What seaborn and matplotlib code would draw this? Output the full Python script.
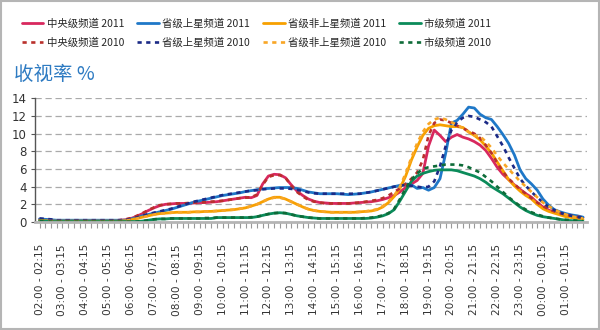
import numpy as np
import pandas as pd
import matplotlib
matplotlib.use("Agg")
import matplotlib.pyplot as plt
import seaborn as sns
from matplotlib.patches import Rectangle

sns.set_theme(style="white")
plt.rcParams["font.family"] = ["Noto Sans CJK SC", "DejaVu Sans"]

# ---------------- data ----------------
hour_labels = ["02:00 - 02:15", "03:00 - 03:15", "04:00 - 04:15", "05:00 - 05:15",
               "06:00 - 06:15", "07:00 - 07:15", "08:00 - 08:15", "09:00 - 09:15",
               "10:00 - 10:15", "11:00 - 11:15", "12:00 - 12:15", "13:00 - 13:15",
               "14:00 - 14:15", "15:00 - 15:15", "16:00 - 16:15", "17:00 - 17:15",
               "18:00 - 18:15", "19:00 - 19:15", "20:00 - 20:15", "21:00 - 21:15",
               "22:00 - 22:15", "23:00 - 23:15", "00:00 - 00:15", "01:00 - 01:15"]

series_names = ["中央级频道 2011", "中央级频道 2010", "省级上星频道 2011", "省级上星频道 2010",
                "省级非上星频道 2011", "省级非上星频道 2010", "市级频道 2011", "市级频道 2010"]

central_2011 = [0.3, 0.25, 0.2, 0.15, 0.15, 0.15, 0.15, 0.15, 0.15, 0.15, 0.15, 0.15, 0.15, 0.15, 0.2, 0.25,
                0.4, 0.65, 0.95, 1.3, 1.6, 1.85, 2.0, 2.05, 2.1, 2.1, 2.1, 2.15, 2.2, 2.2, 2.25, 2.3,
                2.4, 2.5, 2.6, 2.7, 2.8, 2.75, 3.0, 4.3, 5.2, 5.4, 5.35, 5.0, 4.2, 3.5, 3.0, 2.6,
                2.35, 2.2, 2.15, 2.1, 2.1, 2.1, 2.1, 2.15, 2.2, 2.25, 2.3, 2.4, 2.55, 2.75, 3.0, 3.4,
                3.9, 4.3, 4.7, 5.5, 8.6, 10.4, 9.8, 9.1, 9.6, 9.9, 9.6, 9.4, 9.1, 8.7, 8.1, 7.2,
                6.2, 5.4, 4.8, 4.2, 3.7, 3.2, 2.8, 2.2, 1.7, 1.35, 1.1, 0.9, 0.8, 0.7, 0.6, 0.5]
central_2010 = [0.3, 0.25, 0.2, 0.15, 0.15, 0.15, 0.15, 0.15, 0.15, 0.15, 0.15, 0.15, 0.15, 0.15, 0.2, 0.3,
                0.45, 0.7, 1.0, 1.35, 1.65, 1.9, 2.0, 2.05, 2.1, 2.1, 2.15, 2.2, 2.2, 2.25, 2.3, 2.35,
                2.4, 2.5, 2.6, 2.7, 2.75, 2.8, 3.1, 4.2, 5.1, 5.3, 5.3, 5.0, 4.1, 3.4, 2.9, 2.5,
                2.3, 2.2, 2.1, 2.1, 2.1, 2.1, 2.1, 2.15, 2.2, 2.3, 2.4, 2.5, 2.7, 3.0, 3.4, 3.8,
                4.3, 4.9, 5.6, 7.0, 9.8, 11.2, 11.6, 11.5, 11.2, 10.9, 10.6, 10.3, 10.0, 9.5, 8.7, 7.8,
                6.7, 5.7, 4.9, 4.3, 3.7, 3.2, 2.7, 2.2, 1.8, 1.45, 1.2, 1.0, 0.8, 0.7, 0.6, 0.5]
sat_2011 = [0.35, 0.3, 0.25, 0.2, 0.2, 0.2, 0.2, 0.2, 0.2, 0.2, 0.2, 0.2, 0.2, 0.2, 0.2, 0.2,
            0.35, 0.5, 0.7, 0.85, 1.0, 1.15, 1.3, 1.45, 1.65, 1.85, 2.05, 2.25, 2.4, 2.55, 2.7, 2.85,
            3.0, 3.1, 3.2, 3.3, 3.45, 3.55, 3.65, 3.75, 3.8, 3.85, 3.9, 3.9, 3.9, 3.8, 3.6, 3.4,
            3.3, 3.2, 3.2, 3.2, 3.2, 3.15, 3.1, 3.15, 3.2, 3.3, 3.4, 3.55, 3.7, 3.85, 4.0, 4.15,
            4.3, 4.2, 3.8, 3.9, 3.6, 3.9, 4.9, 7.8, 11.2, 11.5, 12.2, 13.0, 12.9, 12.2, 11.8, 11.6,
            10.8, 9.9, 8.9, 7.6, 5.9, 4.9, 4.3, 3.6, 2.6, 1.9, 1.4, 1.15, 0.95, 0.8, 0.7, 0.55]
sat_2010 = [0.4, 0.35, 0.3, 0.2, 0.2, 0.2, 0.2, 0.2, 0.2, 0.2, 0.2, 0.2, 0.2, 0.2, 0.2, 0.2,
            0.35, 0.5, 0.7, 0.9, 1.05, 1.2, 1.35, 1.5, 1.7, 1.9, 2.1, 2.3, 2.45, 2.6, 2.75, 2.9,
            3.05, 3.15, 3.25, 3.35, 3.45, 3.55, 3.6, 3.7, 3.75, 3.8, 3.8, 3.8, 3.75, 3.65, 3.5, 3.35,
            3.25, 3.2, 3.2, 3.2, 3.2, 3.2, 3.2, 3.2, 3.2, 3.3, 3.4, 3.55, 3.7, 3.85, 4.0, 4.1,
            4.2, 4.1, 4.0, 3.9, 4.0, 4.6, 6.3, 8.6, 10.4, 11.3, 11.8, 12.0, 11.9, 11.6, 11.3, 10.8,
            9.7, 8.6, 7.3, 6.1, 4.9, 4.1, 3.4, 2.8, 2.2, 1.7, 1.35, 1.05, 0.85, 0.7, 0.55, 0.5]
nonsat_2011 = [0.2, 0.15, 0.1, 0.1, 0.1, 0.1, 0.1, 0.1, 0.1, 0.1, 0.1, 0.1, 0.1, 0.1, 0.1, 0.15,
               0.25, 0.4, 0.55, 0.7, 0.85, 0.95, 1.0, 1.05, 1.1, 1.1, 1.1, 1.15, 1.15, 1.2, 1.2, 1.25,
               1.3, 1.35, 1.4, 1.5, 1.6, 1.8, 2.0, 2.3, 2.6, 2.8, 2.8, 2.6, 2.3, 2.0, 1.7, 1.45,
               1.3, 1.2, 1.15, 1.1, 1.1, 1.1, 1.1, 1.1, 1.15, 1.2, 1.25, 1.4, 1.7, 2.2, 2.9, 3.8,
               5.2, 7.0, 8.5, 9.8, 10.6, 10.9, 11.0, 10.9, 10.8, 10.8, 10.7, 10.2, 9.8, 9.3, 8.6, 7.8,
               6.8, 5.8, 4.8, 4.1, 3.5, 3.0, 2.6, 2.0, 1.5, 1.2, 1.0, 0.8, 0.6, 0.5, 0.4, 0.3]
nonsat_2010 = [0.2, 0.15, 0.1, 0.1, 0.1, 0.1, 0.1, 0.1, 0.1, 0.1, 0.1, 0.1, 0.1, 0.1, 0.1, 0.15,
               0.25, 0.4, 0.55, 0.7, 0.85, 0.95, 1.0, 1.05, 1.1, 1.1, 1.1, 1.15, 1.15, 1.2, 1.2, 1.25,
               1.3, 1.35, 1.4, 1.5, 1.6, 1.8, 2.0, 2.3, 2.6, 2.75, 2.75, 2.6, 2.3, 2.0, 1.7, 1.45,
               1.3, 1.2, 1.15, 1.1, 1.1, 1.1, 1.1, 1.1, 1.15, 1.2, 1.3, 1.45, 1.8, 2.3, 3.0, 4.0,
               5.5, 7.3, 8.9, 10.2, 11.1, 11.6, 11.8, 11.6, 11.3, 11.0, 10.6, 10.2, 9.8, 9.7, 9.1, 8.4,
               7.5, 6.7, 6.0, 5.3, 4.6, 4.0, 3.4, 2.8, 2.2, 1.8, 1.4, 1.1, 0.85, 0.65, 0.5, 0.4]
city_2011 = [0.15, 0.1, 0.05, 0.05, 0.05, 0.05, 0.05, 0.05, 0.05, 0.05, 0.05, 0.05, 0.05, 0.05, 0.05, 0.05,
             0.05, 0.05, 0.1, 0.2, 0.3, 0.35, 0.35, 0.4, 0.4, 0.4, 0.4, 0.4, 0.4, 0.4, 0.4, 0.5,
             0.5, 0.5, 0.5, 0.5, 0.5, 0.5, 0.6, 0.75, 0.9, 1.0, 1.05, 1.0, 0.85, 0.7, 0.6, 0.5,
             0.45, 0.4, 0.4, 0.4, 0.4, 0.4, 0.4, 0.4, 0.4, 0.4, 0.45, 0.55, 0.7, 0.95, 1.4, 2.4,
             3.5, 4.6, 5.2, 5.5, 5.7, 5.85, 5.9, 5.9, 5.9, 5.8, 5.6, 5.4, 5.2, 4.9, 4.5, 4.0,
             3.6, 3.2, 2.7, 2.2, 1.7, 1.3, 1.0, 0.75, 0.6, 0.5, 0.4, 0.3, 0.2, 0.15, 0.1, 0.1]
city_2010 = [0.15, 0.1, 0.05, 0.05, 0.05, 0.05, 0.05, 0.05, 0.05, 0.05, 0.05, 0.05, 0.05, 0.05, 0.05, 0.05,
             0.05, 0.05, 0.1, 0.2, 0.3, 0.35, 0.35, 0.4, 0.4, 0.4, 0.4, 0.4, 0.4, 0.45, 0.45, 0.5,
             0.5, 0.5, 0.5, 0.5, 0.5, 0.55, 0.6, 0.75, 0.9, 1.0, 1.05, 1.0, 0.85, 0.7, 0.6, 0.5,
             0.45, 0.4, 0.4, 0.4, 0.4, 0.4, 0.4, 0.4, 0.4, 0.45, 0.5, 0.6, 0.75, 1.0, 1.5, 2.6,
             3.8, 4.8, 5.5, 6.0, 6.2, 6.3, 6.4, 6.5, 6.5, 6.5, 6.4, 6.2, 5.9, 5.6, 5.1, 4.6,
             4.0, 3.4, 2.8, 2.3, 1.8, 1.4, 1.1, 0.85, 0.65, 0.5, 0.4, 0.3, 0.25, 0.2, 0.15, 0.1]

colors = ["#d8285e", "#b9302c", "#1f78c8", "#1b2a86", "#f7a000", "#f8a626", "#0b8b5a", "#0e6b38"]

# ---------------- build frame ----------------
values = [central_2011, central_2010, sat_2011, sat_2010,
          nonsat_2011, nonsat_2010, city_2011, city_2010]
slot = np.arange(len(central_2011))
df = pd.concat([pd.DataFrame({"slot": slot, "rating": v, "series": n})
                for n, v in zip(series_names, values)], ignore_index=True)

fig = plt.figure(figsize=(6.0, 3.3), dpi=100)
ax = fig.add_axes([35 / 600, 1 - 222 / 330, (587 - 35) / 600, (222 - 98.3) / 330])

dash = (0, (1.6, 1.7))
handles = {}
# solid 2011 lines first, dotted 2010 lines on top
order = [0, 2, 4, 6, 1, 3, 5, 7]
for k in order:
    name = series_names[k]
    sub = df[df["series"] == name]
    ls = "-" if k % 2 == 0 else dash
    lw = 2.0 if k % 2 == 0 else 1.9
    sns.lineplot(data=sub, x="slot", y="rating", ax=ax, color=colors[k],
                 linewidth=lw, linestyle=ls, legend=False)
    handles[k] = ax.lines[-1]

ax.set_xlim(-0.8, 95.7)
ax.set_ylim(0, 14)
ax.set_yticks(np.arange(0, 15, 2))
ax.set_xticks(np.arange(0, 96, 4))
ax.set_xticklabels(hour_labels, rotation=90, fontsize=7.6, color="#333333",
                   family=["DejaVu Sans"])
ax.set_xticks(np.arange(0, 96, 1), minor=True)
ax.set_xlabel("")
ax.set_ylabel("")
for t in ax.get_yticklabels():
    t.set_fontsize(8.5)
    t.set_color("#333333")
    t.set_family(["DejaVu Sans"])

ax.tick_params(axis="x", which="both", bottom=True, length=4, width=0.8,
               color="#999999", pad=12)
ax.tick_params(axis="y", left=True, length=3, width=0.8, color="#555555", pad=3)

ax.yaxis.grid(True, linestyle=(0, (5, 3)), color="#aaaaaa", linewidth=0.9)
ax.xaxis.grid(False)
ax.set_axisbelow(True)
for s in ["top", "right"]:
    ax.spines[s].set_visible(False)
ax.spines["left"].set_color("#555555")
ax.spines["left"].set_linewidth(1.0)
ax.spines["bottom"].set_color("#b5b5b5")
ax.spines["bottom"].set_linewidth(2.0)

# legend (column-wise: 2011 on first row, 2010 on second row)
leg_handles = [handles[k] for k in range(8)]
fig.legend(leg_handles, series_names, ncol=4, loc="upper left",
           bbox_to_anchor=(0.029, 0.958), frameon=False, fontsize=7.5,
           handlelength=2.1, handletextpad=0.3, columnspacing=1.25,
           labelspacing=0.85, borderaxespad=0)

fig.text(14 / 600, 1 - 74 / 330, "收视率 %", color="#2e7bc2", fontsize=14,
         va="center", ha="left")

fig.patches.append(Rectangle((0.001, 0.002), 0.997, 0.995, transform=fig.transFigure,
                             fill=False, edgecolor="#b5b5b5", linewidth=1.5))

fig.savefig("out.png", dpi=100, facecolor="white")
